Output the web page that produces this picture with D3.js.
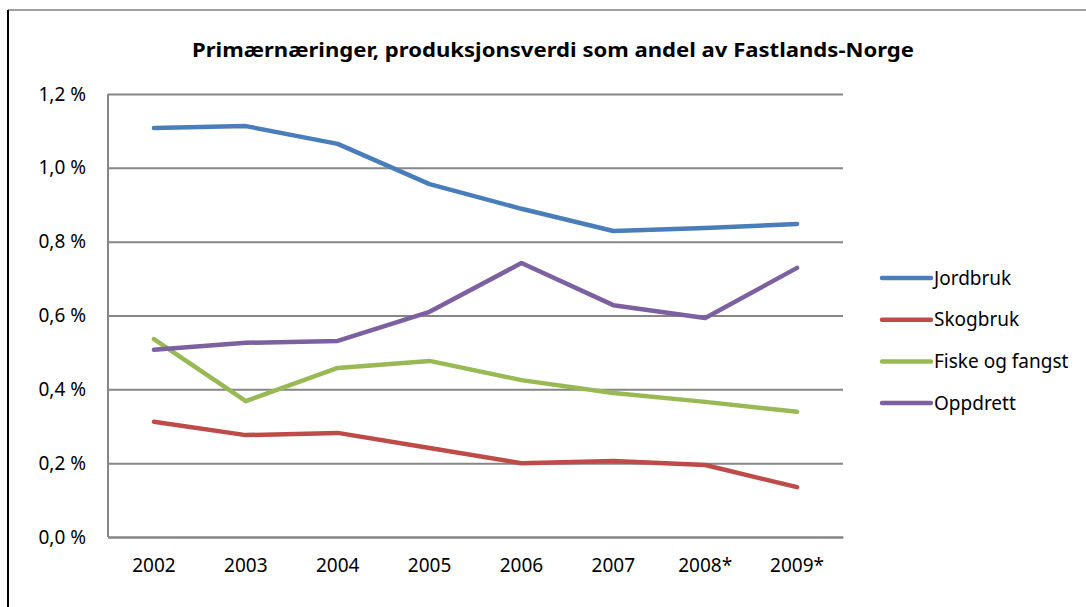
<!DOCTYPE html>
<meta charset="utf-8">
<style>
  body { margin: 0; background: #fff; }
  text { font-family: "Noto Sans", "Open Sans", sans-serif; fill: #000; }
</style>
<svg width="1086" height="607"></svg>
<script src="https://cdn.jsdelivr.net/npm/d3@7"></script>
<script>
    // data
    var years = ['2002', '2003', '2004', '2005', '2006', '2007', '2008*', '2009*'];
    var jordbruk = [1.108, 1.113, 1.065, 0.956, 0.889, 0.829, 0.837, 0.848];
    var skogbruk = [0.312, 0.276, 0.282, 0.241, 0.200, 0.206, 0.195, 0.135];
    var fiske = [0.536, 0.368, 0.458, 0.477, 0.425, 0.390, 0.366, 0.339];
    var oppdrett = [0.507, 0.526, 0.531, 0.610, 0.742, 0.628, 0.593, 0.729];
    var seriesNames = ['Jordbruk', 'Skogbruk', 'Fiske og fangst', 'Oppdrett'];
    var colors = ['#4a7ebb', '#be4b48', '#98b954', '#7d60a0'];
    var yTicks = [0, 0.2, 0.4, 0.6, 0.8, 1.0, 1.2];

    var series = [jordbruk, skogbruk, fiske, oppdrett].map(function (vals, i) {
        return { name: seriesNames[i], color: colors[i], values: vals };
    });

    var svg = d3.select('svg');
    var margin = { left: 108, top: 94, right: 243, bottom: 70 };
    var width = +svg.attr('width') - margin.left - margin.right;
    var height = +svg.attr('height') - margin.top - margin.bottom;

    // outer chart frame (top + left visible)
    svg.append('line').attr('x1', 8).attr('x2', 1086).attr('y1', 10).attr('y2', 10)
        .attr('stroke', '#808080').attr('stroke-width', 1.5);
    svg.append('line').attr('x1', 8).attr('x2', 8).attr('y1', 10).attr('y2', 607)
        .attr('stroke', '#000').attr('stroke-width', 2);

    svg.append('text')
        .attr('x', 553).attr('y', 57)
        .attr('text-anchor', 'middle')
        .attr('font-size', 19).attr('font-weight', 'bold')
        .attr('textLength', 722).attr('lengthAdjust', 'spacingAndGlyphs')
        .text('Primærnæringer,  produksjonsverdi som andel av Fastlands-Norge');

    var g = svg.append('g')
        .attr('transform', `translate(${margin.left}, ${margin.top})`);

    var x = d3.scaleBand().domain(years).range([0, width]);
    var y = d3.scaleLinear().domain([0, 1.2]).range([height, 0]);

    var fmt = function (d) { return d3.format('.1f')(d).replace('.', ',') + ' %'; };

    // gridlines + y labels
    var yAxis = g.append('g')
        .call(d3.axisLeft(y).tickValues(yTicks).tickSize(-width).tickPadding(22).tickFormat(fmt));
    yAxis.select('.domain').remove();
    yAxis.selectAll('.tick line').attr('stroke', '#868686').attr('stroke-width', 2);
    yAxis.selectAll('.tick text').attr('font-size', 19).attr('font-family', '"Noto Sans", sans-serif');

    g.append('line').attr('x1', 0).attr('x2', 0).attr('y1', 0).attr('y2', height)
        .attr('stroke', '#868686').attr('stroke-width', 2);

    var xAxis = g.append('g')
        .attr('transform', `translate(0, ${height})`)
        .call(d3.axisBottom(x).tickSize(0).tickPadding(22));
    xAxis.select('.domain').attr('stroke', '#868686').attr('stroke-width', 2);
    xAxis.selectAll('.tick text').attr('font-size', 19).attr('font-family', '"Noto Sans", sans-serif');

    var line = d3.line()
        .x(function (d, i) { return x(years[i]) + x.bandwidth() / 2; })
        .y(function (d) { return y(d); });

    g.selectAll('.series')
        .data(series)
        .enter()
        .append('path')
        .attr('class', 'series')
        .attr('fill', 'none')
        .attr('stroke', function (d) { return d.color; })
        .attr('stroke-width', 4.5)
        .attr('stroke-linecap', 'round')
        .attr('stroke-linejoin', 'round')
        .attr('d', function (d) { return line(d.values); });

    // legend
    var legend = svg.append('g').attr('transform', 'translate(880, 278)');
    var items = legend.selectAll('.item')
        .data(series)
        .enter()
        .append('g')
        .attr('transform', function (d, i) { return `translate(0, ${i * 41.7})`; });
    items.append('line')
        .attr('x1', 2).attr('x2', 51)
        .attr('stroke', function (d) { return d.color; })
        .attr('stroke-width', 4.5)
        .attr('stroke-linecap', 'round');
    items.append('text')
        .attr('x', 54).attr('dy', '0.35em')
        .attr('font-size', 19)
        .text(function (d) { return d.name; });
</script>
